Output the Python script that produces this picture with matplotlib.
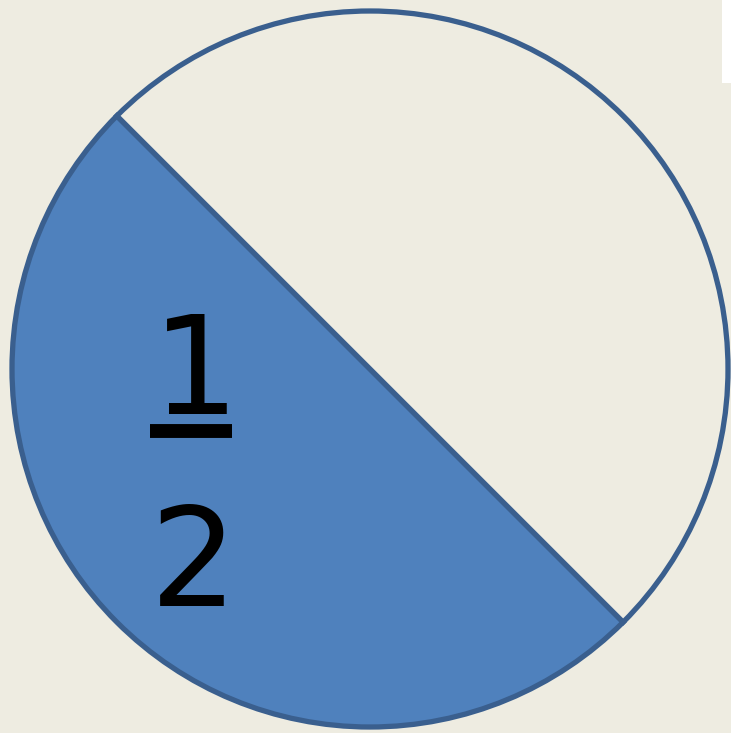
import matplotlib
matplotlib.use("Agg")
import matplotlib.pyplot as plt
from matplotlib.patches import Rectangle

# two halves of the circle: shaded part, unshaded part
shares = [1, 1]
colors = ["#4F81BD", "#EEECE1"]
numerator = "1"
denominator = "2"

W, H = 731, 733
BG = "#EEECE1"
EDGE = "#3A5F8E"

fig = plt.figure(figsize=(W / 100, H / 100), dpi=100)
fig.patch.set_facecolor(BG)
ax = fig.add_axes([0, 0, 1, 1])
ax.set_facecolor(BG)

ax.pie(shares, colors=colors, startangle=135, counterclock=True,
       center=(370, 364), radius=358, frame=True,
       wedgeprops=dict(edgecolor=EDGE, linewidth=3.8))

ax.set_xlim(0, W)
ax.set_ylim(0, H)
ax.set_aspect("auto")
ax.axis("off")

# white block in the top right corner
ax.add_patch(Rectangle((722, H - 83), 20, 90, facecolor="white", edgecolor="none"))

# fraction text
ax.text(196, 319, numerator, fontsize=99, family="DejaVu Sans", ha="center", va="baseline")
ax.plot([150, 232], [302, 302], color="black", linewidth=10, solid_capstyle="butt")
ax.text(194, 127, denominator, fontsize=99, family="DejaVu Sans", ha="center", va="baseline")

fig.savefig("out.png", dpi=100, facecolor=BG)
